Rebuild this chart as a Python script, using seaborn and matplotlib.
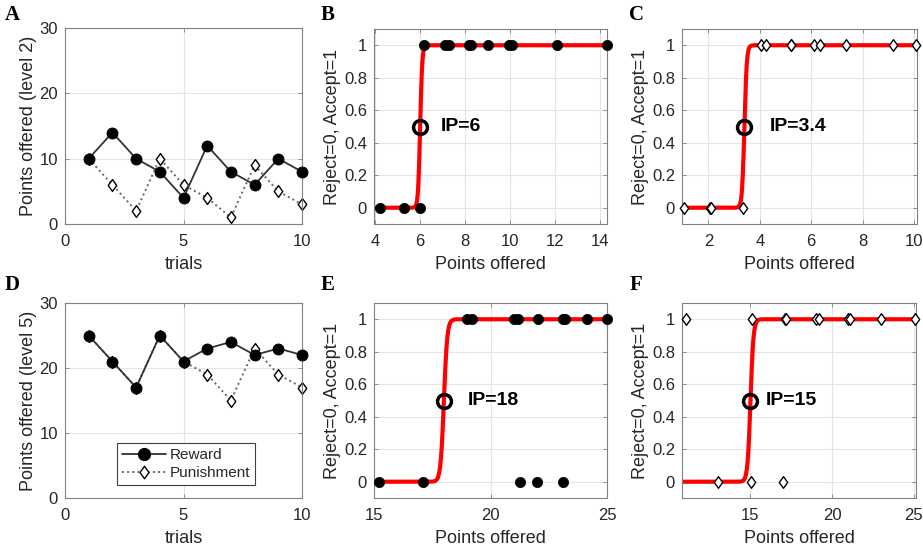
import numpy as np
import pandas as pd
import matplotlib
matplotlib.use("Agg")
import matplotlib.pyplot as plt
import seaborn as sns
from matplotlib.lines import Line2D
from matplotlib.path import Path

# ---- trial sequences (panels A and D) ----
trials = list(range(1, 11))
reward_level2 = [10, 14, 10, 8, 4, 12, 8, 6, 10, 8]
punish_level2 = [10, 6, 2, 10, 6, 4, 1, 9, 5, 3]
reward_level5 = [25, 21, 17, 25, 21, 23, 24, 22, 23, 22]
punish_level5 = [25, 21, 17, 25, 21, 19, 15, 23, 19, 17]

# ---- choices vs. points offered (panels B, C, E, F) ----
b_offer = [4.22, 5.3, 6.0, 6.15, 7.12, 7.26, 8.16, 8.26, 9.02, 9.96, 10.08, 12.1, 14.3]
b_choice = [0, 0, 0, 1, 1, 1, 1, 1, 1, 1, 1, 1, 1]
b_ip, b_slope = 6.0, 22.0

c_offer = [1.05, 2.05, 2.1, 3.35, 4.05, 4.25, 5.2, 5.22, 6.1, 6.35, 7.35, 9.2, 10.1]
c_choice = [0, 0, 0, 0, 1, 1, 1, 1, 1, 1, 1, 1, 1]
c_ip, c_slope = 3.4, 22.0

e_offer = [15.2, 17.1, 21.25, 22.0, 23.1, 19.0, 19.2, 21.0, 21.2, 22.05, 23.1, 23.2, 24.15, 25.0]
e_choice = [0, 0, 0, 0, 0, 1, 1, 1, 1, 1, 1, 1, 1, 1]
e_ip, e_slope = 18.0, 14.0

f_offer = [13.0, 15.05, 17.0, 11.05, 15.1, 17.1, 17.15, 19.0, 19.2, 21.0, 21.1, 23.0, 25.1]
f_choice = [0, 0, 0, 1, 1, 1, 1, 1, 1, 1, 1, 1, 1]
f_ip, f_slope = 15.0, 11.0

sns.set_theme(style="whitegrid")
plt.rcParams["font.family"] = ["Liberation Sans", "DejaVu Sans"]

AX_COL = "#808080"
TXT_COL = "#262626"
GRID_COL = "#e4e4e4"

# MATLAB-style diamond: taller than wide
DIAMOND = Path([(0, 1), (0.72, 0), (0, -1), (-0.72, 0), (0, 1)],
               [Path.MOVETO, Path.LINETO, Path.LINETO, Path.LINETO, Path.CLOSEPOLY])

fig = plt.figure(figsize=(9.23, 5.54), dpi=100)
fig.patch.set_facecolor("white")

W, H = 923.0, 554.0


def make_ax(left, right, top, bottom):
    return fig.add_axes([left / W, 1 - bottom / H, (right - left) / W, (bottom - top) / H])


def style_ax(ax):
    ax.set_facecolor("white")
    for s in ax.spines.values():
        s.set_color(AX_COL)
        s.set_linewidth(0.8)
        s.set_visible(True)
    ax.grid(True, color=GRID_COL, linewidth=0.8)
    ax.set_axisbelow(True)
    ax.tick_params(axis="both", direction="in", length=3, width=0.6, color=AX_COL,
                   labelsize=12, labelcolor=TXT_COL, top=True, right=True,
                   bottom=True, left=True, labeltop=False, labelright=False)
    ax.tick_params(axis="x", pad=7)
    ax.tick_params(axis="y", pad=5)


def trial_panel(ax, reward, punish, ylabel, legend=False):
    df = pd.DataFrame({"trial": trials, "reward": reward, "punish": punish})
    sns.lineplot(data=df, x="trial", y="punish", ax=ax, color="#666666", linestyle=":",
                 linewidth=1.4, marker=DIAMOND, markersize=8.5, markerfacecolor="white",
                 markeredgecolor="black", markeredgewidth=1.0, zorder=2)
    sns.lineplot(data=df, x="trial", y="reward", ax=ax, color="#333333", linestyle="-",
                 linewidth=1.3, marker="o", markersize=7.8, markerfacecolor="black",
                 markeredgecolor="black", zorder=3)
    ax.set_xlim(0, 10)
    ax.set_ylim(0, 30)
    ax.set_xticks([0, 5, 10])
    ax.set_yticks([0, 10, 20, 30])
    ax.set_xlabel("trials", fontsize=13, color=TXT_COL, labelpad=5)
    ax.set_ylabel(ylabel, fontsize=13, color=TXT_COL, labelpad=2)
    style_ax(ax)
    for ln in ax.get_lines():
        ln.set_clip_on(False)
    if legend:
        handles = [
            Line2D([], [], color="#333333", linestyle="-", linewidth=1.3, marker="o",
                   markersize=8.5, markerfacecolor="black", markeredgecolor="black"),
            Line2D([], [], color="#666666", linestyle=":", linewidth=1.4, marker=DIAMOND,
                   markersize=9, markerfacecolor="white", markeredgecolor="black"),
        ]
        leg = ax.legend(handles, ["Reward", "Punishment"], loc="lower center",
                        bbox_to_anchor=(0.51, 0.065), fontsize=11, frameon=True,
                        fancybox=False, edgecolor="#404040", framealpha=1,
                        handlelength=2.9, handletextpad=0.2, borderpad=0.35,
                        labelspacing=0.25, borderaxespad=0)
        leg.get_frame().set_linewidth(0.8)


def choice_panel(ax, offer, choice, ip, slope, xlim, xticks, filled, text_dx):
    xs = np.linspace(xlim[0], xlim[1], 600)
    curve = pd.DataFrame({"x": xs, "p": 1.0 / (1.0 + np.exp(-slope * (xs - ip)))})
    sns.lineplot(data=curve, x="x", y="p", ax=ax, color="red", linewidth=3.0, zorder=2)
    pts = pd.DataFrame({"x": offer, "y": choice})
    if filled:
        sns.scatterplot(data=pts, x="x", y="y", ax=ax, marker="o", s=55, color="black",
                        edgecolor="black", linewidth=0.5, zorder=3, clip_on=False)
    else:
        sns.scatterplot(data=pts, x="x", y="y", ax=ax, marker=DIAMOND, s=70, color="white",
                        edgecolor="black", linewidth=1.0, zorder=3, clip_on=False)
    ax.plot([ip], [0.5], marker="o", markersize=10, markerfacecolor="none",
            markeredgecolor="black", markeredgewidth=2.5, linestyle="none", zorder=4)
    ax.annotate(f"IP={ip:g}", xy=(ip, 0.5), xytext=(text_dx, 0), textcoords="offset pixels",
                fontsize=14, fontweight="bold", color="black", va="center", ha="left",
                zorder=5)
    ax.set_xlim(*xlim)
    ax.set_ylim(-0.1, 1.1)
    ax.set_xticks(xticks)
    ax.set_yticks([0, 0.2, 0.4, 0.6, 0.8, 1])
    ax.set_yticklabels(["0", "0.2", "0.4", "0.6", "0.8", "1"])
    ax.set_xlabel("Points offered", fontsize=13, color=TXT_COL, labelpad=5)
    ax.set_ylabel("Reject=0, Accept=1", fontsize=13, color=TXT_COL, labelpad=2)
    style_ax(ax)


axA = make_ax(65, 302, 28, 224)
axB = make_ax(374, 607, 29, 224)
axC = make_ax(682, 917, 29, 224)
axD = make_ax(65, 302, 303, 498)
axE = make_ax(374, 607, 303, 498)
axF = make_ax(682, 916, 303, 498)

trial_panel(axA, reward_level2, punish_level2, "Points offered (level 2)")
trial_panel(axD, reward_level5, punish_level5, "Points offered (level 5)", legend=True)
choice_panel(axB, b_offer, b_choice, b_ip, b_slope, (3.95, 14.3), [4, 6, 8, 10, 12, 14], True, 21)
choice_panel(axC, c_offer, c_choice, c_ip, c_slope, (0.97, 10.12), [2, 4, 6, 8, 10], False, 25)
choice_panel(axE, e_offer, e_choice, e_ip, e_slope, (15, 25), [15, 20, 25], True, 24)
choice_panel(axF, f_offer, f_choice, f_ip, f_slope, (10.8, 25.15), [15, 20, 25], False, 15)

# panel letters
for letter, (px, py) in {"A": (12, 15), "B": (328, 15), "C": (636, 15),
                         "D": (12, 285), "E": (328, 285), "F": (636, 285)}.items():
    fig.text(px / W, 1 - py / H, letter, fontsize=15, fontweight="bold",
             family=["Liberation Serif", "DejaVu Serif"], ha="center", va="center",
             color="black")

fig.savefig("out.png", dpi=100, facecolor="white")
